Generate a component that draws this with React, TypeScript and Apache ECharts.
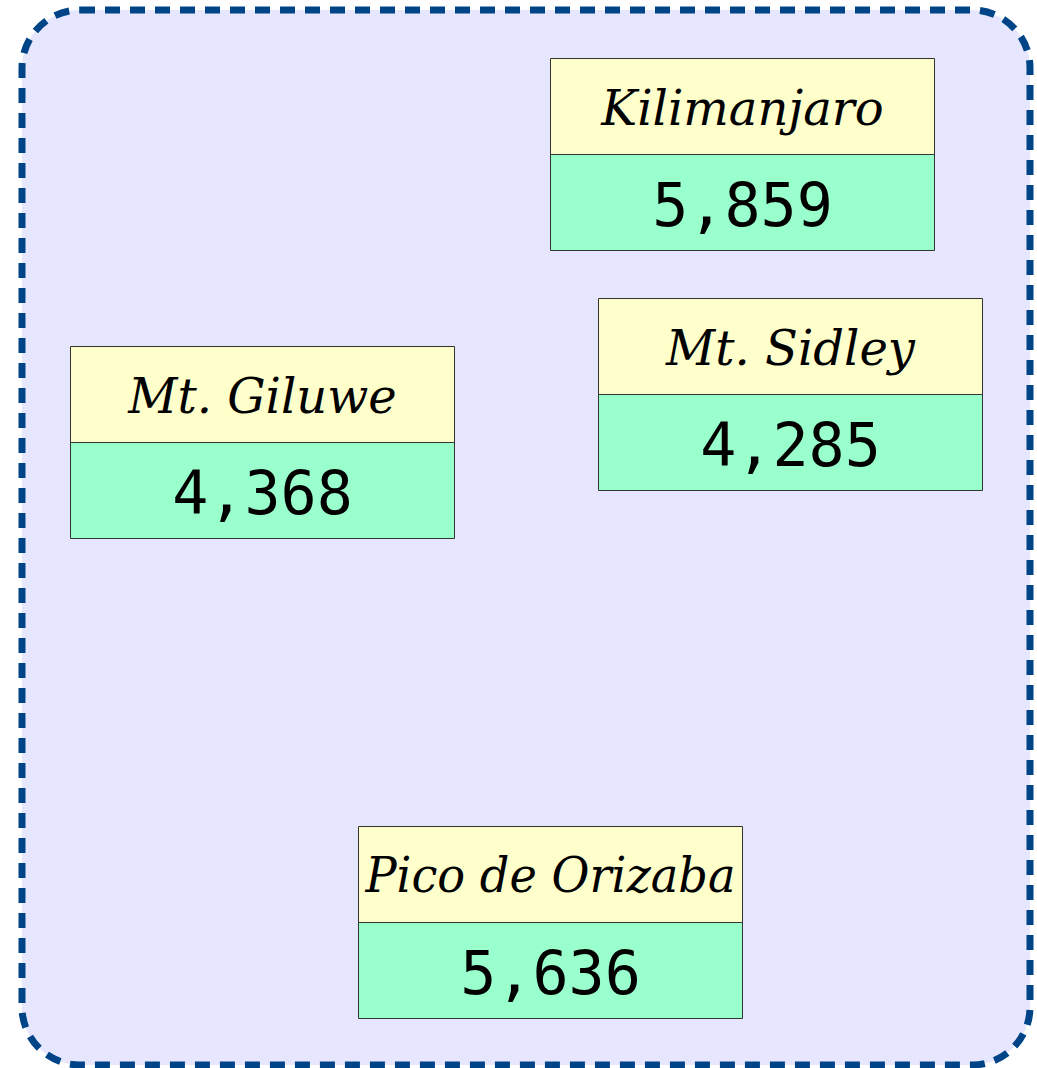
import React, { useEffect, useRef } from "react";
import * as echarts from "echarts";

const names = ["Kilimanjaro", "Mt. Sidley", "Mt. Giluwe", "Pico de Orizaba"];
const elevations = [5859, 4285, 4368, 5636];
// layout position of each label box centre, in the hidden axes' units
const posX = [742, 790, 262, 550];
const posY = [154, 394, 442, 922];

const W = 1037;
const H = 1068;
const BOX_W = 384;
const BOX_H = 192;
const TITLE_FONT = "italic 48px 'DejaVu Serif'";
const VALUE_FONT = "60px 'DejaVu Sans Mono'";
const MAX_TITLE_W = 370;

function measure(text: string, font: string): number {
  const cv = document.createElement("canvas");
  const ctx = cv.getContext("2d");
  if (!ctx) return 0;
  ctx.font = font;
  return ctx.measureText(text).width;
}

export default function App() {
  const ref = useRef<HTMLDivElement>(null);
  useEffect(() => {
    if (!ref.current) return;
    const chart = echarts.init(ref.current, null, { renderer: "svg" });
    const data = names.map((n, i) => [posX[i], posY[i], n, elevations[i]]);
    chart.setOption({
      animation: false,
      backgroundColor: "#ffffff",
      grid: { left: 0, right: 0, top: 0, bottom: 0 },
      xAxis: { type: "value", min: 0, max: W, show: false },
      yAxis: { type: "value", min: 0, max: H, inverse: true, show: false },
      graphic: [
        {
          type: "rect",
          z: -10,
          shape: { x: 22, y: 10, width: 1008, height: 1055, r: 58 },
          style: {
            fill: "#e6e6ff",
            stroke: "#004488",
            lineWidth: 7,
            lineDash: [15, 10],
          },
        },
      ],
      series: [
        {
          type: "custom",
          coordinateSystem: "cartesian2d",
          data,
          renderItem: (params: any, api: any) => {
            const c = api.coord([api.value(0), api.value(1)]);
            const name = names[params.dataIndex];
            const val = elevations[params.dataIndex];
            const x0 = Math.round(c[0] - BOX_W / 2) + 0.5;
            const y0 = Math.round(c[1] - BOX_H / 2) + 0.5;
            const half = BOX_H / 2;
            const tw = measure(name, TITLE_FONT);
            const sx = tw > MAX_TITLE_W ? MAX_TITLE_W / tw : 1;
            const cx = x0 + BOX_W / 2;
            return {
              type: "group",
              children: [
                {
                  type: "rect",
                  shape: { x: x0, y: y0, width: BOX_W, height: half },
                  style: { fill: "#ffffcc", stroke: "#333333", lineWidth: 1 },
                },
                {
                  type: "rect",
                  shape: { x: x0, y: y0 + half, width: BOX_W, height: half },
                  style: { fill: "#99ffcc", stroke: "#333333", lineWidth: 1 },
                },
                {
                  type: "text",
                  x: cx,
                  y: y0 + half / 2 + 1,
                  scaleX: sx,
                  style: {
                    x: 0,
                    y: 0,
                    text: name,
                    fill: "#000000",
                    font: TITLE_FONT,
                    align: "center",
                    verticalAlign: "middle",
                  },
                },
                {
                  type: "text",
                  style: {
                    x: cx,
                    y: y0 + half + half / 2 + 2,
                    text: val.toLocaleString("en-US"),
                    fill: "#000000",
                    font: VALUE_FONT,
                    align: "center",
                    verticalAlign: "middle",
                  },
                },
              ],
            };
          },
        },
      ],
    });
    return () => chart.dispose();
  }, []);
  return (
    <div
      ref={ref}
      style={{ position: "fixed", left: 0, top: 0, width: W, height: H }}
    />
  );
}
